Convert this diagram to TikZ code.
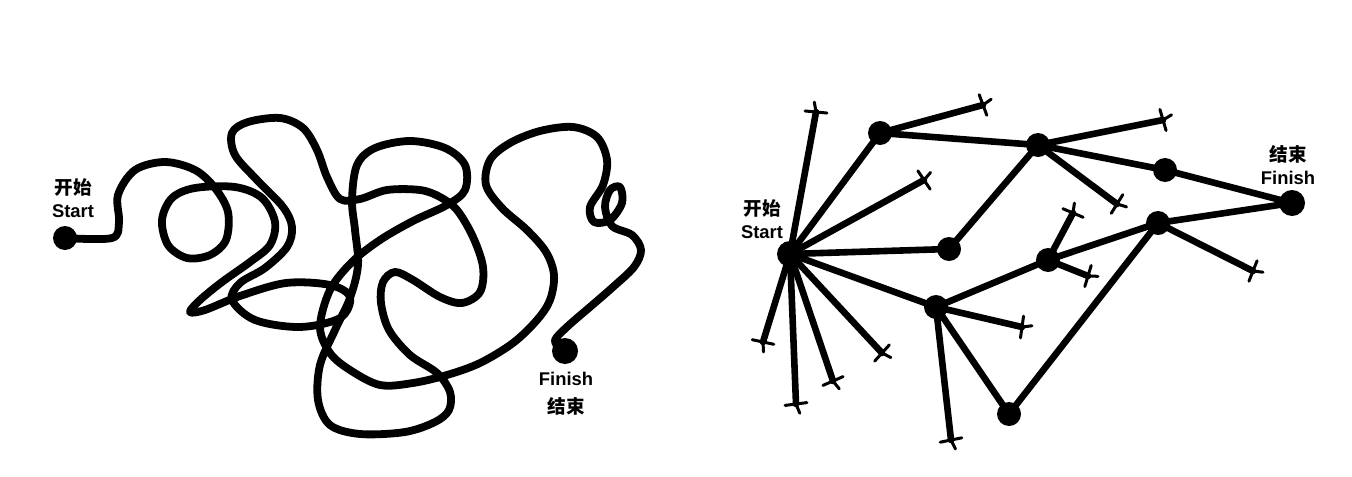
\documentclass[tikz,border=0pt]{standalone}
\usepackage{fontspec}
\setmainfont{Liberation Sans}
\newfontfamily\cjk{Noto Sans CJK SC}
\usetikzlibrary{calc}
\tikzset{
  lbl/.style={font=\fontsize{9.2}{10}\selectfont\bfseries, inner sep=0},
  cjklbl/.style={font=\cjk\fontsize{9.3}{10}\selectfont\bfseries, inner sep=0},
  dot/.style={circle, fill=black, inner sep=0, minimum size=12pt},
  bigdot/.style={circle, fill=black, inner sep=0, minimum size=13pt},
  tangle/.style={line width=3.9pt, line cap=round, line join=round},
  edge/.style={line width=3.3pt, line cap=round},
  bar/.style={line width=1.5pt, line cap=round},
}
\newcommand\deadend[2]{%
  \draw[edge] (#1.center) -- (#2);
  \draw[bar] ($(#2)!5.5pt!95:(#1.center)$) -- ($(#2)!5.5pt!-85:(#1.center)$);
  \draw[bar] (#2) -- ($(#2)!5pt!200:(#1.center)$);
}
\begin{document}
\begin{tikzpicture}[x=0.5pt,y=-0.5pt]
\useasboundingbox (0,0) rectangle (1352,476);
% ---------- left: tangled path ----------
\node[dot] (ls) at (65,238) {};
\node[bigdot] (lf) at (565,351) {};
\draw[tangle] plot[smooth, tension=0.55] coordinates {
 (65,238) (112,238) (119,222) (118,195) (135,170) (165,162) (195,170) (215,188)
 (228,212) (226,240) (210,255) (187,258) (168,245) (162,220) (172,198) (195,188)
 (235,187) (262,198) (275,222) (270,245) (250,262) (222,282) (200,300) (190,312)
 (205,310) (240,296) (286,283) (330,285) (350,297) (340,318) (300,327) (255,320)
 (232,300) (240,283) (265,268) (287,247) (292,227) (283,207) (257,180) (235,155)
 (232,133) (248,122) (280,118) (303,128) (317,150) (327,177) (340,199) (360,199)
 (387,190) (420,190) (440,197) (457,210) (473,237) (483,267) (480,292) (462,303)
 (440,297) (413,280) (395,272) (383,282) (381,303) (389,330) (410,355) (437,373)
 (450,392) (449,410) (435,422) (405,432) (360,434) (330,425) (318,400) (320,365)
 (335,330) (350,298) (358,265) (355,230) (352,200) (357,165) (375,148) (410,141)
 (445,148) (465,165) (465,190) (447,205) (413,221) (380,240) (352,262) (330,290)
 (320,327) (330,353) (350,370) (380,385) (413,383) (447,375) (480,363) (513,343)
 (537,320) (550,300) (554,275) (546,252) (527,230) (502,208) (486,185) (490,160)
 (510,143) (540,131) (573,127) (597,137) (607,160) (603,185) (590,207) (594,222)
 (610,220) (622,203) (620,187) (610,190) (605,207) (612,226) (632,235) (641,250)
 (634,267) (613,287) (590,307) (568,326) (555,340) (560,348)};
\node[cjklbl] (lstartzh) at (73,187) {开始};
\node[lbl] (lstarten) at (73,211) {Start};
\node[lbl] (lfinishen) at (566,379) {Finish};
\node[cjklbl] (lfinishzh) at (566,406) {结束};
% ---------- right: network ----------
\node[bigdot] (S) at (790,254) {};
\node[dot] (A) at (880,133) {};
\node[dot] (B) at (1038,145) {};
\node[dot] (C) at (1165,170) {};
\node[bigdot] (F) at (1292,203) {};
\node[dot] (D) at (949,249) {};
\node[dot] (E) at (1158,223) {};
\node[dot] (G) at (1048,260) {};
\node[dot] (H) at (936,307) {};
\node[dot] (I) at (1009,414) {};
\coordinate (s1) at (816,112);
\coordinate (s2) at (924,180);
\coordinate (s3) at (763,342);
\coordinate (s4) at (796,404);
\coordinate (s5) at (833,381);
\coordinate (s6) at (882,353);
\coordinate (a1) at (983,105);
\coordinate (b1) at (1163,120);
\coordinate (b2) at (1117,204);
\coordinate (g1) at (1073,213);
\coordinate (g2) at (1088,276);
\coordinate (h1) at (1022,327);
\coordinate (h2) at (951,440);
\coordinate (e1) at (1253,271);
\foreach \u/\v in {S/A, A/B, B/C, C/F, S/D, D/B, S/H, H/G, G/E, E/F, H/I, I/E}
  \draw[edge] (\u.center) -- (\v.center);
\deadend{S}{s1}
\deadend{S}{s2}
\deadend{S}{s3}
\deadend{S}{s4}
\deadend{S}{s5}
\deadend{S}{s6}
\deadend{A}{a1}
\deadend{B}{b1}
\deadend{B}{b2}
\deadend{G}{g1}
\deadend{G}{g2}
\deadend{H}{h1}
\deadend{H}{h2}
\deadend{E}{e1}
\node[cjklbl] (rstartzh) at (762,208) {开始};
\node[lbl] (rstarten) at (762,232) {Start};
\node[cjklbl] (rfinishzh) at (1288,154) {结束};
\node[lbl] (rfinishen) at (1288,178) {Finish};
\end{tikzpicture}
\end{document}
